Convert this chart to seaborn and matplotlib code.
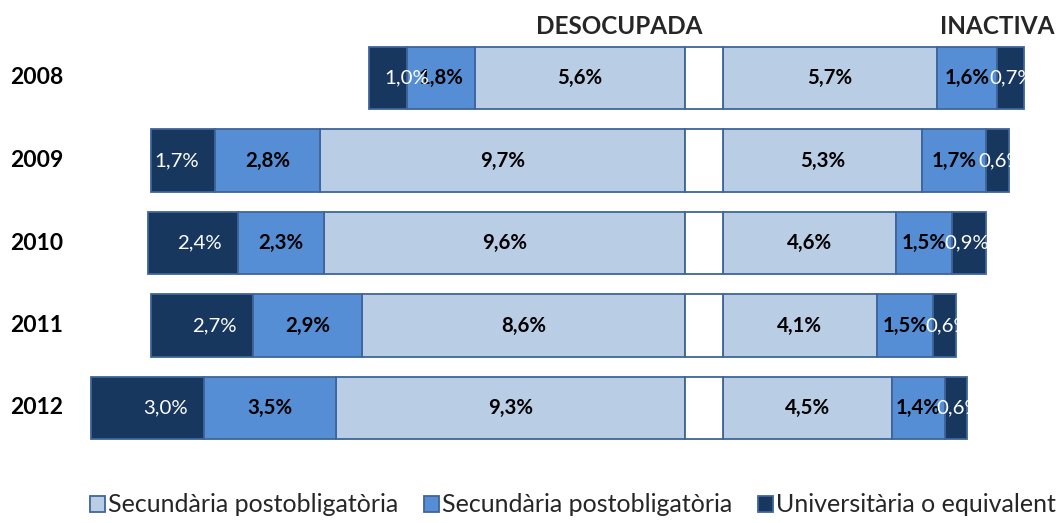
import matplotlib
matplotlib.use("Agg")
import matplotlib.pyplot as plt
from matplotlib.patches import Rectangle, Patch
from matplotlib.transforms import blended_transform_factory
import seaborn as sns
import pandas as pd

# Share of the population (%) by educational attainment, unemployed vs. inactive
years = ["2008", "2009", "2010", "2011", "2012"]

# DESOCUPADA (left side)
desoc_univ = [1.0, 1.7, 2.4, 2.7, 3.0]
desoc_sec = [1.8, 2.8, 2.3, 2.9, 3.5]
desoc_post = [5.6, 9.7, 9.6, 8.6, 9.3]

# INACTIVA (right side)
inact_post = [5.7, 5.3, 4.6, 4.1, 4.5]
inact_sec = [1.6, 1.7, 1.5, 1.5, 1.4]
inact_univ = [0.7, 0.6, 0.9, 0.6, 0.6]

legend_labels = ["Secundària postobligatòria", "Secundària postobligatòria",
                 "Universitària o equivalent"]
headers = ["DESOCUPADA", "INACTIVA"]

C_LIGHT = "#B9CDE5"
C_MED = "#558ED5"
C_DARK = "#17375E"
EDGE = "#3F659A"
GAP = 1.0          # blank spacer between both sides
BAR_H = 0.76

sns.set_theme(style="white")
plt.rcParams["font.family"] = ["Lato", "DejaVu Sans"]

W, H = 1061, 523
fig = plt.figure(figsize=(W / 100, H / 100), dpi=100)
ax = fig.add_axes([0, 1 - 449.25 / H, 1, 412.5 / H])

px_per_unit = 37.6
center_px = 704
ax.set_xlim(-center_px / px_per_unit, (W - center_px) / px_per_unit)


def fmt(v):
    return f"{v:.1f}".replace(".", ",") + "%"


def draw_segment(lefts, widths, color):
    df = pd.DataFrame({"year": years, "width": widths})
    sns.barplot(data=df, x="width", y="year", order=years, orient="h",
                left=lefts, color=color, saturation=1, width=BAR_H,
                edgecolor=EDGE, linewidth=1.3, errorbar=None, ax=ax)


# build segment extents from the centre outwards
half = GAP / 2
segs = []  # (lefts, widths, color, side, kind)
# left side
cum = [half] * len(years)
for vals, col, kind in [(desoc_post, C_LIGHT, "post"), (desoc_sec, C_MED, "sec"),
                        (desoc_univ, C_DARK, "univ")]:
    lefts = [-(c + v) for c, v in zip(cum, vals)]
    segs.append((lefts, vals, col, "L", kind))
    cum = [c + v for c, v in zip(cum, vals)]
# right side
cum = [half] * len(years)
for vals, col, kind in [(inact_post, C_LIGHT, "post"), (inact_sec, C_MED, "sec"),
                        (inact_univ, C_DARK, "univ")]:
    segs.append((list(cum), vals, col, "R", kind))
    cum = [c + v for c, v in zip(cum, vals)]

for lefts, vals, col, side, kind in segs:
    draw_segment(lefts, vals, col)

# white spacer in the middle
draw_segment([-half] * len(years), [GAP] * len(years), "white")

ax.set_ylim(len(years) - 0.5, -0.5)
ax.set_xlim(-center_px / px_per_unit, (W - center_px) / px_per_unit)

# value labels
LBL = 14.7
u = 1 / px_per_unit
for lefts, vals, col, side, kind in segs:
    for i, (l, v) in enumerate(zip(lefts, vals)):
        r = l + v
        if kind == "univ":
            if side == "L":
                if v < 1.2:
                    ax.text(r, i, fmt(v), ha="center", va="center",
                            color="white", fontsize=LBL)
                else:
                    ax.text(r - 16 * u, i, fmt(v), ha="right", va="center",
                            color="white", fontsize=LBL)
            else:
                t = ax.text(l - 8 * u, i, fmt(v), ha="left", va="center",
                            color="white", fontsize=LBL)
                clip = Rectangle((l - 2, i - 0.5), v + 2, 1,
                                 transform=ax.transData)
                t.set_clip_path(clip)
        else:
            ax.text(l + v / 2, i, fmt(v), ha="center", va="center",
                    color="black", fontsize=LBL, fontweight="bold")

# year labels
tr = blended_transform_factory(ax.transAxes, ax.transData)
for i, y in enumerate(years):
    ax.text(10 / W, i, y, transform=tr, ha="left", va="center",
            fontsize=16.5, fontweight="bold", color="black")

ax.set_xlabel("")
ax.set_ylabel("")
ax.set_xticks([])
ax.set_yticks([])
for s in ax.spines.values():
    s.set_visible(False)
ax.patch.set_alpha(0)

# side headers
fig.text(619 / W, 1 - 27 / H, headers[0], ha="center", va="center",
         fontsize=17.5, fontweight="bold")
fig.text(997 / W, 1 - 27 / H, headers[1], ha="center", va="center",
         fontsize=17.5, fontweight="bold")

handles = [Patch(facecolor=c, edgecolor=EDGE, linewidth=1.3)
           for c in (C_LIGHT, C_MED, C_DARK)]
fig.legend(handles, legend_labels, loc="center", ncol=3,
           bbox_to_anchor=(573 / W, 1 - 505 / H), frameon=False,
           fontsize=18, handlelength=0.6, handleheight=0.6,
           handletextpad=0.15, columnspacing=1.0, borderpad=0)

fig.savefig("out.png", dpi=100)
